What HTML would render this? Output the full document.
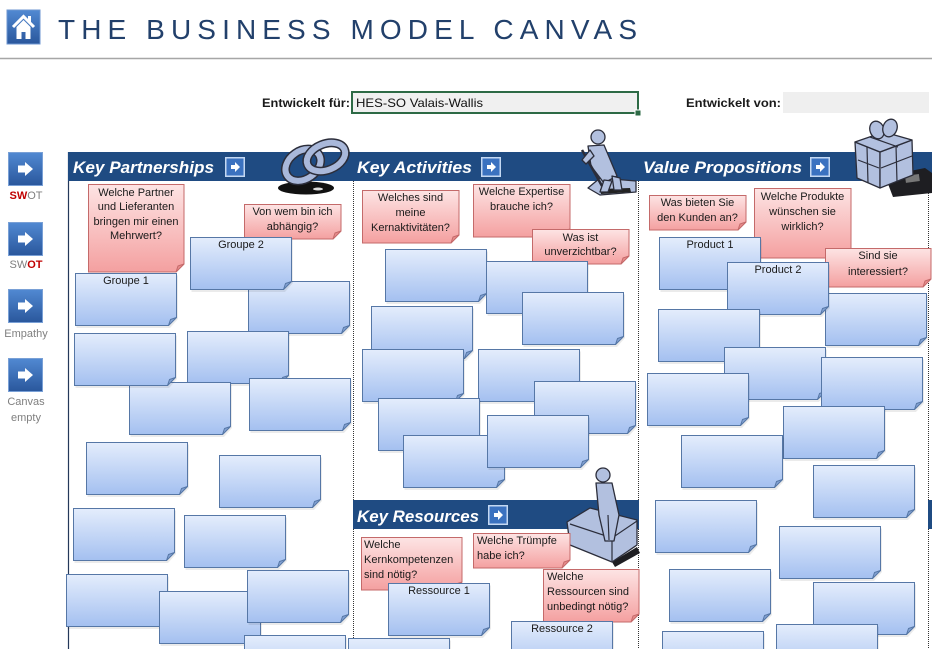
<!DOCTYPE html>
<html><head><meta charset="utf-8"><style>
html,body{margin:0;padding:0;background:#fff;width:932px;height:649px;overflow:hidden}
svg{display:block}
text{font-family:"Liberation Sans",Arial,sans-serif}
.n{font-size:11px;fill:#1a1a1a}
.h{font-size:17px;font-weight:bold;font-style:italic;fill:#fff}
.sl{font-size:11px;fill:#7f7f7f}
.pk{fill:url(#gp);stroke:#c46a6a}
.pf{fill:#e88d8d;stroke:#c46a6a;stroke-linejoin:round}
.art{fill:#b2c0df;stroke:#2b2d3a;stroke-width:1.3;stroke-linejoin:round}
</style></head><body>
<svg width="932" height="649" viewBox="0 0 932 649" xmlns="http://www.w3.org/2000/svg" style="overflow:hidden">
<defs>
<linearGradient id="gb" x1="0" y1="0" x2="0" y2="1"><stop offset="0" stop-color="#e4edfc"/><stop offset="1" stop-color="#a4c0f0"/></linearGradient>
<linearGradient id="gp" x1="0" y1="0" x2="0" y2="1"><stop offset="0" stop-color="#fde4e4"/><stop offset="1" stop-color="#f4a0a0"/></linearGradient>
<linearGradient id="gbt" x1="0" y1="0" x2="0" y2="1"><stop offset="0" stop-color="#5189d2"/><stop offset="1" stop-color="#2a579c"/></linearGradient>
<g id="nb">
<path d="M1.5,2.5 H103 V46 L95,55 H1.5 Z" fill="#000" opacity="0.08"/>
<path d="M0.5,0.5 H101.5 V44.5 L93.5,52.5 H0.5 Z" fill="url(#gb)" stroke="#5677a6"/>
<path d="M93.5,52.5 L95.5,46.5 L101.5,44.5 Z" fill="#85a3d4" stroke="#5677a6" stroke-linejoin="round"/>
</g>
<g id="sb">
<rect x="0.5" y="0.5" width="34" height="33" fill="url(#gbt)" stroke="#79a0d6"/>
<path d="M10,13.5 H17 V10 L25,17 L17,24 V20.5 H10 Z" fill="#fff"/>
</g>
<g id="hb">
<rect x="0.75" y="0.75" width="18.5" height="18.5" fill="#3b72c0" stroke="#c4d8f2" stroke-width="1.5"/>
<path d="M6,8 H10 V5 L15,10 L10,15 V12 H6 Z" fill="#fff"/>
</g>
</defs>

<!-- header -->
<rect x="7" y="10" width="33" height="34" fill="url(#gbt)" stroke="#6d96d0"/>
<polyline points="13,27 23.5,16.5 34,27" fill="none" stroke="#fff" stroke-width="3"/>
<rect x="28" y="16" width="3" height="6" fill="#fff"/>
<path d="M16.5,27 L23.5,20 L30.5,27 V39 H25.5 V32 H21.5 V39 H16.5 Z" fill="#fff"/>
<text x="58" y="39" font-size="28" fill="#22406b" textLength="579" lengthAdjust="spacing">THE BUSINESS MODEL CANVAS</text>
<line x1="0" y1="58.5" x2="932" y2="58.5" stroke="#a6a6a6" stroke-width="1.5"/>

<text x="262" y="107" font-size="12" font-weight="bold" fill="#1a1a1a" textLength="88" lengthAdjust="spacingAndGlyphs">Entwickelt für:</text>
<rect x="352" y="92" width="286" height="21" fill="#f0f0f0" stroke="#2d6a45" stroke-width="2"/>
<rect x="635" y="110" width="6" height="6" fill="#2d6a45" stroke="#fff" stroke-width="1"/>
<text x="356" y="107" font-size="12" fill="#111" textLength="127" lengthAdjust="spacingAndGlyphs">HES-SO Valais-Wallis</text>
<text x="686" y="107" font-size="12" font-weight="bold" fill="#1a1a1a" textLength="95" lengthAdjust="spacingAndGlyphs">Entwickelt von:</text>
<rect x="783" y="92" width="146" height="21" fill="#efefef"/>

<!-- sidebar -->
<use href="#sb" x="8" y="152"/>
<text x="26" y="199" class="sl" text-anchor="middle"><tspan fill="#c00000" font-weight="bold">SW</tspan>OT</text>
<use href="#sb" x="8" y="222"/>
<text x="26" y="268" class="sl" text-anchor="middle">SW<tspan fill="#c00000" font-weight="bold">OT</tspan></text>
<use href="#sb" x="8" y="289"/>
<text x="26" y="337" class="sl" text-anchor="middle">Empathy</text>
<use href="#sb" x="8" y="358"/>
<text x="26" y="405" class="sl" text-anchor="middle">Canvas</text>
<text x="26" y="421" class="sl" text-anchor="middle">empty</text>

<!-- column lines -->
<line x1="68.5" y1="152" x2="68.5" y2="649" stroke="#24385a" stroke-width="1.2"/>
<g stroke="#333" stroke-width="1" stroke-dasharray="1,1">
<line x1="353.5" y1="181" x2="353.5" y2="649"/>
<line x1="638.5" y1="181" x2="638.5" y2="649"/>
<line x1="928.5" y1="181" x2="928.5" y2="649"/>
</g>

<!-- header bars -->
<rect x="68" y="152" width="864" height="29" fill="#1f4b82"/>
<rect x="353" y="500" width="286" height="29" fill="#1f4b82"/>
<rect x="928" y="500" width="4" height="29" fill="#1f4b82"/>
<text x="73" y="173" class="h" textLength="141" lengthAdjust="spacingAndGlyphs">Key Partnerships</text>
<use href="#hb" x="225" y="157"/>
<text x="357" y="173" class="h" textLength="115" lengthAdjust="spacingAndGlyphs">Key Activities</text>
<use href="#hb" x="481" y="157"/>
<text x="643" y="173" class="h" textLength="159" lengthAdjust="spacingAndGlyphs">Value Propositions</text>
<use href="#hb" x="810" y="157"/>
<text x="357" y="522" class="h" textLength="122" lengthAdjust="spacingAndGlyphs">Key Resources</text>
<use href="#hb" x="488" y="505"/>

<!-- clip art: chains -->
<ellipse cx="306" cy="188" rx="28" ry="6.5" fill="#111"/>
<ellipse cx="318" cy="189" rx="5" ry="1.5" fill="#ddd"/>
<ellipse cx="303" cy="165" rx="19" ry="14" transform="rotate(-35 303 165)" fill="none" stroke="#2b2d3a" stroke-width="9"/>
<ellipse cx="303" cy="165" rx="19" ry="14" transform="rotate(-35 303 165)" fill="none" stroke="#a9b8da" stroke-width="6"/>
<ellipse cx="326" cy="157" rx="20" ry="13" transform="rotate(-22 326 157)" fill="none" stroke="#2b2d3a" stroke-width="9"/>
<ellipse cx="326" cy="157" rx="20" ry="13" transform="rotate(-22 326 157)" fill="none" stroke="#a9b8da" stroke-width="6"/>

<!-- clip art: worker -->
<path class="art" d="M588,188 L600,178 L636,181 L636,192 L600,195 Z"/>
<path d="M600,189 L630,188 L631,192 L601,194 Z" fill="#222"/>
<circle class="art" cx="598" cy="137" r="7"/>
<path class="art" d="M588,146 L604,145 L617,176 L604,183 L591,166 Z"/>
<path class="art" d="M604,180 L612,181 L608,192 L600,192 Z"/>
<path class="art" d="M612,176 L620,178 L622,190 L614,190 Z"/>
<line x1="582" y1="150" x2="602" y2="186" stroke="#2b2d3a" stroke-width="2.5"/>
<path class="art" d="M590,150 L582,160 L586,164 L594,156 Z"/>

<!-- clip art: gift -->
<path d="M885,176 L925,168 L932,173 L932,193 L893,197 Z" fill="#1e1e22"/>
<rect x="905" y="176" width="14" height="7" fill="#777" transform="rotate(-8 905 176)"/>
<path class="art" d="M855,142 L880,152 L880,188 L857,178 Z"/>
<path class="art" d="M880,152 L912,140 L913,175 L880,188 Z"/>
<path class="art" d="M855,142 L884,132 L912,140 L880,152 Z"/>
<path d="M867,147 L868,183 M896,146 L897,182 M870,137 L898,147 M858,160 L879,168 M881,168 L912,156" stroke="#2b2d3a" stroke-width="1.2" fill="none"/>
<ellipse class="art" cx="877" cy="130" rx="7" ry="9" transform="rotate(-20 877 130)"/>
<ellipse class="art" cx="890" cy="128" rx="7" ry="9" transform="rotate(20 890 128)"/>

<!-- clip art: person with box -->
<path d="M612,562 L637,547 L640,553 L615,567 Z" fill="#1e1e22"/>
<path class="art" d="M567,522 L590,508 L637,520 L637,545 L612,562 L570,545 Z"/>
<path d="M570,524 L612,538 L637,521 M612,538 L612,561" stroke="#2b2d3a" stroke-width="1.2" fill="none"/>
<path class="art" d="M596,483 L612,483 L619,515 L614,541 L605,541 L599,515 Z"/>
<circle class="art" cx="603" cy="475" r="7"/>
<line x1="608" y1="515" x2="609" y2="540" stroke="#2b2d3a" stroke-width="1.2"/>

<!-- pink notes -->
<g transform="translate(88,184)"><path class="pk" d="M0.5,0.5H96V80L88,88H0.5Z"/><path class="pf" d="M88,88L90,82L96,80Z"/></g>
<text class="n" text-anchor="middle" x="136" y="196">Welche Partner</text>
<text class="n" text-anchor="middle" x="136" y="210">und Lieferanten</text>
<text class="n" text-anchor="middle" x="136" y="225">bringen mir einen</text>
<text class="n" text-anchor="middle" x="136" y="239">Mehrwert?</text>

<g transform="translate(244,204)"><path class="pk" d="M0.5,0.5H97V27L89,35H0.5Z"/><path class="pf" d="M89,35L91,29L97,27Z"/></g>
<text class="n" text-anchor="middle" x="292.5" y="215">Von wem bin ich</text>
<text class="n" text-anchor="middle" x="292.5" y="230">abhängig?</text>

<g transform="translate(362,190)"><path class="pk" d="M0.5,0.5H97V45L89,53H0.5Z"/><path class="pf" d="M89,53L91,47L97,45Z"/></g>
<text class="n" text-anchor="middle" x="410.5" y="201">Welches sind</text>
<text class="n" text-anchor="middle" x="410.5" y="216">meine</text>
<text class="n" text-anchor="middle" x="410.5" y="231">Kernaktivitäten?</text>

<g transform="translate(473,184)"><path class="pk" d="M0.5,0.5H97V45L89,53H0.5Z"/><path class="pf" d="M89,53L91,47L97,45Z"/></g>
<text class="n" text-anchor="middle" x="521.5" y="195">Welche Expertise</text>
<text class="n" text-anchor="middle" x="521.5" y="210">brauche ich?</text>

<g transform="translate(532,229)"><path class="pk" d="M0.5,0.5H97V27L89,35H0.5Z"/><path class="pf" d="M89,35L91,29L97,27Z"/></g>
<text class="n" text-anchor="middle" x="580.5" y="241">Was ist</text>
<text class="n" text-anchor="middle" x="580.5" y="255">unverzichtbar?</text>

<g transform="translate(649,195)"><path class="pk" d="M0.5,0.5H97V27L89,35H0.5Z"/><path class="pf" d="M89,35L91,29L97,27Z"/></g>
<text class="n" text-anchor="middle" x="697.5" y="206">Was bieten Sie</text>
<text class="n" text-anchor="middle" x="697.5" y="221">den Kunden an?</text>

<g transform="translate(754,188)"><path class="pk" d="M0.5,0.5H97V62L89,70H0.5Z"/><path class="pf" d="M89,70L91,64L97,62Z"/></g>
<text class="n" text-anchor="middle" x="802.5" y="200">Welche Produkte</text>
<text class="n" text-anchor="middle" x="802.5" y="215">wünschen sie</text>
<text class="n" text-anchor="middle" x="802.5" y="230">wirklich?</text>

<g transform="translate(825,248)"><path class="pk" d="M0.5,0.5H106V31L98,39H0.5Z"/><path class="pf" d="M98,39L100,33L106,31Z"/></g>
<text class="n" text-anchor="middle" x="878" y="259">Sind sie</text>
<text class="n" text-anchor="middle" x="878" y="275">interessiert?</text>

<g transform="translate(361,537)"><path class="pk" d="M0.5,0.5H101V45L93,53H0.5Z"/><path class="pf" d="M93,53L95,47L101,45Z"/></g>
<text class="n" x="364" y="548">Welche</text>
<text class="n" x="364" y="563">Kernkompetenzen</text>
<text class="n" x="364" y="578">sind nötig?</text>

<g transform="translate(473,533)"><path class="pk" d="M0.5,0.5H97V27L89,35H0.5Z"/><path class="pf" d="M89,35L91,29L97,27Z"/></g>
<text class="n" x="477" y="544">Welche Trümpfe</text>
<text class="n" x="477" y="559">habe ich?</text>

<g transform="translate(543,569)"><path class="pk" d="M0.5,0.5H96V45L88,53H0.5Z"/><path class="pf" d="M88,53L90,47L96,45Z"/></g>
<text class="n" x="547" y="580">Welche</text>
<text class="n" x="547" y="595">Ressourcen sind</text>
<text class="n" x="547" y="610">unbedingt nötig?</text>

<!-- Key Partnerships blue notes -->
<use href="#nb" x="248" y="281"/>
<use href="#nb" x="190" y="237"/>
<text class="n" text-anchor="middle" x="241" y="248">Groupe 2</text>
<use href="#nb" x="75" y="273"/>
<text class="n" text-anchor="middle" x="126" y="284">Groupe 1</text>
<use href="#nb" x="187" y="331"/>
<use href="#nb" x="249" y="378"/>
<use href="#nb" x="129" y="382"/>
<use href="#nb" x="74" y="333"/>
<use href="#nb" x="86" y="442"/>
<use href="#nb" x="219" y="455"/>
<use href="#nb" x="73" y="508"/>
<use href="#nb" x="184" y="515"/>
<use href="#nb" x="66" y="574"/>
<use href="#nb" x="159" y="591"/>
<use href="#nb" x="247" y="570"/>
<use href="#nb" x="244" y="635"/>

<!-- Key Activities blue notes -->
<use href="#nb" x="385" y="249"/>
<use href="#nb" x="486" y="261"/>
<use href="#nb" x="522" y="292"/>
<use href="#nb" x="371" y="306"/>
<use href="#nb" x="362" y="349"/>
<use href="#nb" x="478" y="349"/>
<use href="#nb" x="534" y="381"/>
<use href="#nb" x="378" y="398"/>
<use href="#nb" x="403" y="435"/>
<use href="#nb" x="487" y="415"/>

<!-- Key Resources blue notes -->
<use href="#nb" x="388" y="583"/>
<text class="n" text-anchor="middle" x="439" y="594">Ressource 1</text>
<use href="#nb" x="511" y="621"/>
<text class="n" text-anchor="middle" x="562" y="632">Ressource 2</text>
<use href="#nb" x="348" y="638"/>

<!-- Value Propositions blue notes -->
<use href="#nb" x="825" y="293"/>
<use href="#nb" x="659" y="237"/>
<text class="n" text-anchor="middle" x="710" y="248">Product 1</text>
<use href="#nb" x="727" y="262"/>
<text class="n" text-anchor="middle" x="778" y="273">Product 2</text>
<use href="#nb" x="658" y="309"/>
<use href="#nb" x="724" y="347"/>
<use href="#nb" x="821" y="357"/>
<use href="#nb" x="647" y="373"/>
<use href="#nb" x="783" y="406"/>
<use href="#nb" x="681" y="435"/>
<use href="#nb" x="813" y="465"/>
<use href="#nb" x="655" y="500"/>
<use href="#nb" x="779" y="526"/>
<use href="#nb" x="669" y="569"/>
<use href="#nb" x="813" y="582"/>
<use href="#nb" x="776" y="624"/>
<use href="#nb" x="662" y="631"/>
</svg>
</body></html>
